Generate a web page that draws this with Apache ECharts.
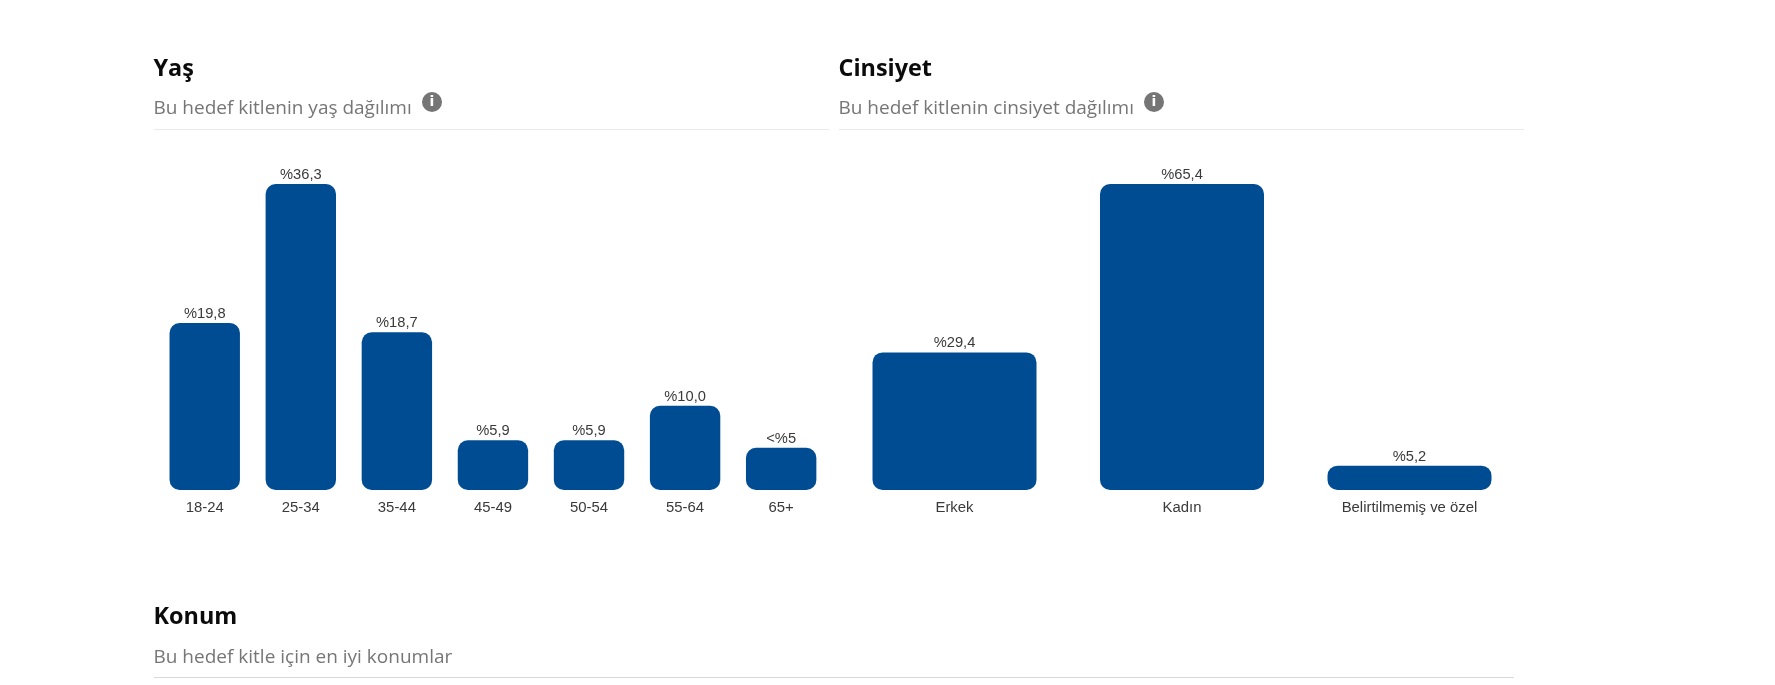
<!DOCTYPE html>
<html>
<head>
<meta charset="utf-8">
<style>html,body{margin:0;padding:0;background:#fff}#c{width:1775px;height:685px}</style>
<script src="https://cdn.jsdelivr.net/npm/echarts@6/dist/echarts.min.js"></script>
</head>
<body>
<div id="c"></div>
<script>
const ageCategories = ['18-24','25-34','35-44','45-49','50-54','55-64','65+'];
const ageValues = [19.8,36.3,18.7,5.9,5.9,10.0,5.0];
const ageLabels = ['%19,8','%36,3','%18,7','%5,9','%5,9','%10,0','<%5'];
const genderCategories = ['Erkek','Kadın','Belirtilmemiş ve özel'];
const genderValues = [29.4,65.4,5.2];
const genderLabels = ['%29,4','%65,4','%5,2'];

const HEAD = '"Open Sans","Noto Sans",sans-serif';
const BODY = '"Liberation Sans",Arial,sans-serif';
const BLUE = '#004c93';

function heading(x, y, text) {
  return {type:'text', silent:true, style:{x, y, text, fontFamily:HEAD, fontSize:23.4, fontWeight:700, fill:'#0b0b0b', verticalAlign:'top'}};
}
function sub(x, y, text) {
  return {type:'text', silent:true, style:{x, y, text, fontFamily:HEAD, fontSize:19, fontWeight:400, fill:'#767676', verticalAlign:'top'}};
}
function rule(x1, x2, y, color) {
  return {type:'line', silent:true, shape:{x1, y1:y, x2, y2:y}, style:{stroke:color, lineWidth:1}};
}
function info(cx, cy) {
  return [
    {type:'circle', silent:true, shape:{cx, cy, r:10}, style:{fill:'#757575'}},
    {type:'text', silent:true, style:{x:cx, y:cy, text:'i', fontFamily:'"DejaVu Sans",sans-serif', fontSize:14, fontWeight:700, fill:'#fff', align:'center', verticalAlign:'middle'}}
  ];
}
function barSeries(xi, values, labels, width) {
  return {
    type:'bar', xAxisIndex:xi, yAxisIndex:xi, data:values, barWidth:width,
    itemStyle:{color:BLUE, borderRadius:10},
    label:{show:true, position:'top', distance:1.5, fontFamily:BODY, fontSize:14.7, color:'#3a3a3a',
      formatter:p => labels[p.dataIndex]},
    silent:true, animation:false
  };
}
function xAxis(gi, cats) {
  return {type:'category', gridIndex:gi, data:cats, axisLine:{show:false}, axisTick:{show:false},
    axisLabel:{fontFamily:BODY, fontSize:14.9, color:'#3a3a3a', margin:10, interval:0}};
}
function yAxis(gi, max) {
  return {type:'value', gridIndex:gi, min:0, max, show:false, splitLine:{show:false}};
}

const chart = echarts.init(document.getElementById('c'), null, {renderer:'canvas'});
chart.setOption({
  backgroundColor:'#fff', animation:false,
  grid:[
    {left:156.7, width:672.5, top:184, height:306},
    {left:840.75, width:682.5, top:184, height:306}
  ],
  xAxis:[xAxis(0, ageCategories), xAxis(1, genderCategories)],
  yAxis:[yAxis(0, 36.3), yAxis(1, 65.4)],
  series:[barSeries(0, ageValues, ageLabels, 70.4), barSeries(1, genderValues, genderLabels, 164)],
  graphic:[
    heading(153.5, 58, 'Yaş'),
    sub(153.5, 99, 'Bu hedef kitlenin yaş dağılımı'),
    rule(154, 829, 129.5, '#e9e9e9'),
    ...info(432, 102),
    heading(838.5, 58, 'Cinsiyet'),
    sub(838.5, 99, 'Bu hedef kitlenin cinsiyet dağılımı'),
    rule(839, 1524, 129.5, '#e9e9e9'),
    ...info(1154, 102),
    heading(153.5, 606, 'Konum'),
    sub(153.5, 648, 'Bu hedef kitle için en iyi konumlar'),
    rule(154, 1514, 677.5, '#d9d9d9')
  ]
});
</script>
</body>
</html>
